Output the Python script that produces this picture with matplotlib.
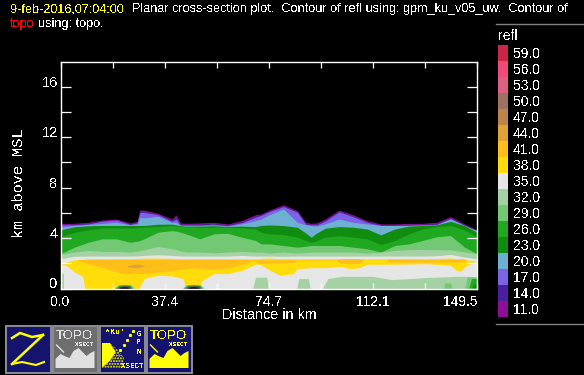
import matplotlib
matplotlib.use('Agg')
import matplotlib.pyplot as plt
from matplotlib.patches import Rectangle, Polygon

plt.rcParams['font.family'] = ['Liberation Sans', 'DejaVu Sans']
plt.rcParams['text.antialiased'] = False

# distance stations (km) for the layer tops
dist = [0, 5, 10, 15, 20, 25, 27.5, 28.5, 30, 35, 40, 41.5, 43, 45, 50, 55, 60, 65, 70, 72,
        75, 80, 85, 88, 90, 92, 95, 100, 105, 110, 115, 120, 125, 130, 135, 140, 145, 149.5]

top_11 = [5.17, 5.17, 5.25, 5.43, 5.51, 5.20, 5.33, 6.22, 6.22, 5.96, 5.51, 5.85, 5.2, 5.17, 5.20, 5.25, 5.12, 5.38, 5.85, 5.91,
          6.22, 6.64, 6.17, 5.25, 5.17, 5.2, 5.51, 6.22, 5.85, 5.38, 5.12, 5.12, 5.17, 5.17, 5.25, 5.70, 5.12, 4.65]
top_14 = [5.10, 5.10, 5.18, 5.36, 5.44, 5.13, 5.26, 6.12, 6.12, 5.88, 5.42, 5.70, 5.12, 5.10, 5.12, 5.18, 5.05, 5.30, 5.75, 5.88,
          6.15, 6.57, 6.10, 5.15, 5.10, 5.12, 5.42, 6.15, 5.78, 5.30, 5.05, 5.05, 5.10, 5.10, 5.18, 5.62, 5.05, 4.58]
top_17 = [5.05, 5.05, 5.12, 5.33, 5.43, 5.08, 5.2, 6.04, 6.04, 5.85, 5.33, 5.51, 5.05, 5.05, 5.05, 5.1, 5.0, 5.22, 5.66, 5.8,
          6.1, 6.5, 6.05, 5.1, 5.05, 5.05, 5.35, 6.08, 5.7, 5.25, 5.0, 5.0, 5.03, 5.05, 5.1, 5.55, 5.0, 4.5]
top_20 = [4.86, 5.0, 5.08, 5.15, 5.25, 5.05, 5.12, 5.64, 5.60, 5.72, 5.25, 5.25, 5.0, 5.0, 4.98, 5.02, 4.95, 5.12, 5.38, 5.5,
          5.85, 6.30, 5.25, 5.05, 4.99, 4.95, 5.12, 5.51, 5.25, 5.12, 5.0, 5.0, 5.0, 5.02, 5.05, 5.51, 5.0, 4.59]
top_23 = [4.65, 4.9, 4.98, 5.0, 5.0, 5.0, 5.0, 5.0, 5.0, 5.1, 5.1, 5.05, 4.98, 4.95, 4.95, 4.98, 4.92, 4.95, 4.91, 5.0,
          5.04, 4.99, 4.86, 4.4, 4.07, 4.4, 4.78, 4.91, 4.86, 4.72, 4.25, 4.72, 4.95, 5.0, 5.05, 5.33, 4.99, 4.46]
top_26 = [4.07, 4.46, 4.65, 4.8, 4.8, 4.8, 4.82, 4.84, 4.86, 4.91, 4.99, 4.97, 4.93, 4.91, 4.86, 4.86, 4.86, 4.8, 4.72, 4.46,
          4.33, 4.28, 4.07, 3.8, 3.67, 3.8, 4.07, 4.2, 4.07, 3.94, 3.49, 3.81, 4.33, 4.72, 4.91, 4.99, 4.65, 4.07]
top_29 = [2.76, 3.28, 3.67, 3.94, 3.94, 3.67, 3.75, 3.8, 3.94, 4.46, 4.59, 4.55, 4.46, 4.33, 3.94, 4.33, 4.38, 4.07, 3.81, 3.54,
          3.54, 3.41, 3.28, 3.35, 3.41, 3.41, 3.41, 3.41, 3.28, 3.15, 2.89, 3.41, 3.54, 3.81, 4.1, 4.2, 3.28, 2.76]
top_32 = [2.7, 2.89, 3.02, 2.94, 2.94, 2.89, 2.95, 3.0, 3.07, 3.33, 3.15, 3.08, 2.98, 2.89, 2.89, 2.83, 2.89, 2.94, 2.89, 2.89,
          2.81, 2.89, 2.81, 2.85, 2.89, 2.89, 2.89, 2.89, 2.89, 2.81, 2.89, 3.02, 3.07, 3.1, 3.07, 3.07, 2.89, 2.76]
top_35 = [2.36, 2.55, 2.57, 2.57, 2.57, 2.57, 2.58, 2.6, 2.62, 2.68, 2.62, 2.6, 2.58, 2.57, 2.57, 2.57, 2.57, 2.62, 2.57, 2.57,
          2.57, 2.55, 2.57, 2.57, 2.57, 2.57, 2.57, 2.57, 2.57, 2.57, 2.57, 2.57, 2.57, 2.57, 2.6, 2.7, 2.49, 2.36]
top_38 = [1.97, 2.28, 2.36, 2.36, 2.36, 2.36, 2.38, 2.39, 2.41, 2.41, 2.39, 2.38, 2.37, 2.36, 2.36, 2.36, 2.36, 2.36, 2.36, 2.38,
          2.41, 2.36, 2.36, 2.36, 2.36, 2.36, 2.36, 2.36, 2.36, 2.36, 2.36, 2.36, 2.36, 2.36, 2.38, 2.41, 2.28, 2.18]

# underside of the yellow band
low_x = [0, 2, 5, 8, 8.7, 28, 29, 30, 35, 40, 44, 45, 50, 51, 55, 60, 65, 70, 71.6, 75.2, 78.8, 83.6, 84.8, 89.6,
         95.5, 100.3, 103.9, 107.3, 110, 119.5, 131.5, 139.8, 142.2, 143.4, 145.8, 149.5]
low_38 = [1.94, 1.84, 1.31, .97, 0, 0, .39, .79, 1.05, 1.0, .79, 0, .26, .66, 1.18, 1.18, 1.44, 1.92, 1.92, 1.44, 1.05, 1.18, 1.57, 1.65,
          1.65, 1.76, 1.57, 1.65, 1.92, 1.92, 1.97, 1.84, 1.44, 1.36, 1.84, 2.18]

# orange core of the band
orange_x = [5.8, 10.6, 16.6, 22.6, 28.5, 34.5, 40.5, 46.5, 52.5, 58.5, 64.4, 69.2, 71.6, 83.6, 84.8, 99, 100.3, 107, 109, 117, 118, 128, 129, 140, 144.5, 146]
orange_top = [2.28, 2.31, 2.31, 2.31, 2.31, 2.31, 2.31, 2.31, 2.31, 2.31, 2.31, 2.28, 2.28, 2.28, 2.28, 2.28, 2.36, 2.36, 2.31, 2.31, 2.33, 2.33, 2.31, 2.31, 2.36, 2.28]
orange_bot = [2.28, 1.92, 1.57, 1.18, 1.18, 1.31, 1.44, 1.65, 1.57, 1.57, 1.84, 2.23, 2.02, 2.05, 2.25, 2.25, 2.0, 2.0, 2.31, 2.31, 2.1, 2.1, 2.1, 2.1, 2.1, 2.28]

brown_x = [24, 26, 28, 30.3]
brown_top = [1.80, 1.92, 1.94, 1.80]
brown_bot = [1.72, 1.66, 1.66, 1.78]

# patches near the ground: (level, x, top)
ground_patches = [
    (32, [0, 1.3], [1.18, 1.18]),
    (32, [69, 70, 74, 74.7], [0, .9, .9, 0]),
    (32, [84.8, 85.5, 89, 89.6], [0, .79, .79, 0]),
    (32, [94, 96, 101, 112, 119, 131, 143, 149.5], [0, .79, .97, .97, .7, .87, .97, .95]),
    (29, [137.5, 138, 140, 140.5], [0, .45, .45, 0]),
    (29, [145, 146, 149.5], [0, .92, .92]),
    (26, [146.5, 147.5, 149.5], [0, .79, .79]),
    (23, [147.5, 148.5, 149.5], [0, .39, .39]),
]
# rings at the ground
ring_levels = [32, 26, 11, 0]
ring_x = [[19, 20.5, 23, 25.5, 27], [19.5, 21, 23, 25, 26], [20.3, 21.5, 23, 24.5, 25.3], [21, 22, 23, 24, 24.8]]
ring2_x = [[43.5, 45, 47.7, 50.3, 51.9], [44, 45.5, 47.7, 50, 51], [44.8, 46, 47.7, 49.5, 50.3], [45.5, 46.5, 47.7, 49, 49.8]]
ring_top = [[0, .30, .33, .30, 0], [0, .27, .30, .27, 0], [0, .18, .20, .18, 0], [0, .10, .12, .10, 0]]

levels = [59, 56, 53, 50, 47, 44, 41, 38, 35, 32, 29, 26, 23, 20, 17, 14, 11]
level_labels = ['59.0', '56.0', '53.0', '50.0', '47.0', '44.0', '41.0', '38.0', '35.0', '32.0', '29.0', '26.0', '23.0', '20.0', '17.0', '14.0', '11.0']
level_colors = ['#CC2646', '#F04A78', '#DE6080', '#A07060', '#BC8448', '#E0A434', '#FFBE18', '#FFDC0A', '#E6E6E6', '#A5D2A5',
                '#73C873', '#20A820', '#108C10', '#6EB0D2', '#7B62E6', '#4B1EA0', '#8C0F96']
col = dict(zip(levels, level_colors))
col[0] = 'black'

xticks = [0, 18.69, 37.38, 56.06, 74.75, 93.44, 112.12, 130.81, 149.5]
xlabels = ['0.0', '', '37.4', '', '74.7', '', '112.1', '', '149.5']
ymajor = [0, 4, 8, 12, 16]
yminor = [2, 6, 10, 14]

W, H = 584, 375
fig = plt.figure(figsize=(W / 100, H / 100), dpi=100, facecolor='black')
ax = fig.add_axes([60.5 / W, (H - 288.5) / H, 416.5 / W, 227 / H], facecolor='black')

for top, lev in [(top_11, 11), (top_14, 14), (top_17, 17), (top_20, 20), (top_23, 23), (top_26, 26),
                 (top_29, 29), (top_32, 32), (top_35, 35), (top_38, 38)]:
    ax.fill_between(dist, 0, top, color=col[lev], lw=0, antialiased=False)
ax.fill_between(orange_x, orange_bot, orange_top, color=col[41], lw=0, antialiased=False)
ax.fill_between(brown_x, brown_bot, brown_top, color=col[44], lw=0, antialiased=False)
ax.fill_between(low_x, 0, low_38, color=col[35], lw=0, antialiased=False)
ax.fill_between([11.8, 13, 14.8], [1.05, 1.03, 1.05], [1.12, 1.17, 1.12], color=col[38], lw=0, antialiased=False)
for lev, x, top in ground_patches:
    ax.fill_between(x, 0, top, color=col[lev], lw=0, antialiased=False)
for rx in (ring_x, ring2_x):
    for x, top, lev in zip(rx, ring_top, ring_levels):
        ax.fill_between(x, 0, top, color=col[lev], lw=0, antialiased=False)

ax.set_xlim(0, 149.5)
ax.set_ylim(0, 18)
for s in ax.spines.values():
    s.set_color('white')
    s.set_linewidth(1.0)
ax.set_xticks(xticks)
ax.set_xticklabels(xlabels)
ax.set_yticks(ymajor)
ax.set_yticklabels([str(v) for v in ymajor], va='baseline')
ax.set_yticks(yminor, minor=True)
ax.tick_params(axis='x', direction='in', length=4, width=0.9, colors='white', top=True, labelsize=10, pad=4.5)
ax.tick_params(axis='y', which='both', direction='in', length=7.5, width=0.9, colors='white', right=True, labelsize=10.5, pad=2)
ax.get_xticklabels()[-1].set_ha('right')
ax.set_axisbelow(False)

# overlay in pixel coordinates for titles, legend and buttons
ov = fig.add_axes([0, 0, 1, 1], facecolor='none')
ov.set_xlim(0, W)
ov.set_ylim(H, 0)
ov.axis('off')

fs = 9.1
ov.text(10, 9, '9-feb-2016,07:04:00', color='yellow', fontsize=fs, va='center')
ov.text(132, 9, 'Planar cross-section plot.  Contour of refl using: gpm_ku_v05_uw.  Contour of', color='white', fontsize=fs, va='center')
ov.text(10, 24.5, 'topo', color='red', fontsize=fs, va='center')
ov.text(38, 24.5, 'using: topo.', color='white', fontsize=fs, va='center')
ov.text(269, 315, 'Distance in km', color='white', fontsize=10.4, ha='center', va='center')
ov.text(19, 183, 'km above MSL', color='white', fontsize=11, rotation=90, ha='center', va='center', family='Liberation Mono')

# colour key
ov.plot([496, 584], [23.5, 23.5], color='#808080', lw=1)
ov.plot([496, 584], [324, 324], color='#808080', lw=1)
ov.text(498, 36.5, 'refl', color='white', fontsize=10, va='center')
for i, (lab, c) in enumerate(zip(level_labels, level_colors)):
    ov.add_patch(Rectangle((498, 45 + i * 16), 10, 16, facecolor=c, lw=0, antialiased=False))
    ov.text(513, 54.5 + i * 16, lab, color='white', fontsize=10, va='center')

# buttons along the bottom
navy = '#14146E'
for x0, bg in [(5.5, navy), (52.5, '#6E6E6E'), (99.5, navy), (146.5, navy)]:
    ov.add_patch(Rectangle((x0, 325.5), 45, 47, facecolor=bg, edgecolor='#8C8C96', lw=1.4))
ov.plot([12, 20, 32, 43], [338, 333, 337, 335], color='yellow', lw=1.8)
ov.plot([43, 27, 12], [335, 350, 364], color='yellow', lw=1.8)
ov.plot([12, 22, 36, 44], [364, 362, 365, 362], color='yellow', lw=1.5)
for x0, fg in [(52.5, '#E0E0E0'), (146.5, 'yellow')]:
    ov.text(x0 + 22, 336, 'TOPO', color=fg, fontsize=9.5, ha='center', va='center')
    ov.text(x0 + 32, 344.5, 'XSECT', color=fg, fontsize=4.4, ha='center', va='center', family='Liberation Mono', weight='bold')
    xs = [3, 8, 12, 17, 21, 26, 30, 34, 38, 42]
    ys = [34, 29, 31, 33, 26, 23, 27, 31, 28, 26]
    pts = [(x0 + 3, 368)] + [(x0 + a, 325 + b) for a, b in zip(xs, ys)] + [(x0 + 42, 368)]
    ov.add_patch(Polygon(pts, facecolor=fg, lw=0))
    ov.plot([x0 + 4, x0 + 8, x0 + 11], [345, 349, 352], color=fg, lw=1.0)
ov.text(105, 332, "*Ku'", color='yellow', fontsize=6, va='center', family='Liberation Mono', weight='bold')
for y, ch in zip([334, 343, 352], 'GPM'):
    ov.text(139, y, ch, color='yellow', fontsize=5.5, ha='center', va='center', family='Liberation Mono', weight='bold')
ov.text(132, 366, 'XSECT', color='yellow', fontsize=5.4, ha='center', va='center', family='Liberation Mono', weight='bold')
ov.add_patch(Polygon([(102, 343), (110, 343), (116, 352), (110, 361), (102, 368)], facecolor='yellow', lw=0))
ov.add_patch(Polygon([(110, 343), (118, 350), (124, 358), (124, 368), (102, 368), (110, 361), (116, 352)], facecolor=navy, edgecolor='yellow', hatch='......', lw=0))
ov.plot([120, 124, 127, 130, 133], [350, 345, 340, 335, 331], ls='none', marker='s', ms=1.2, color='yellow')

plt.savefig('out.png', dpi=100, facecolor='black')
